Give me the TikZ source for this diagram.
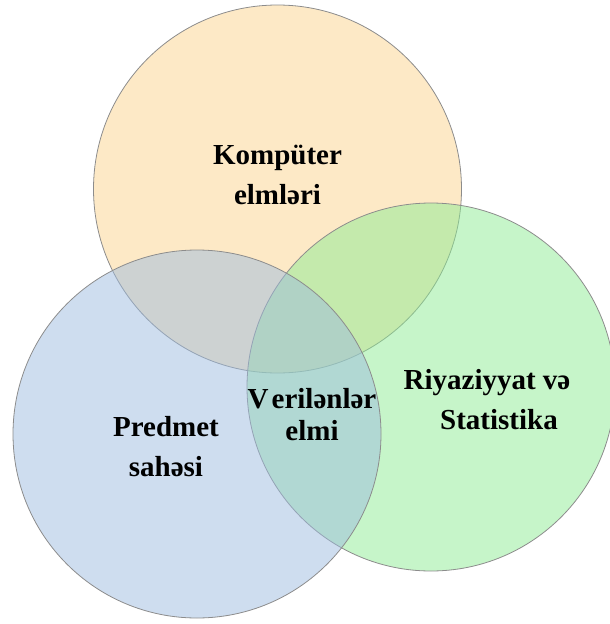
\documentclass[tikz,border=0pt]{standalone}
\usepackage{fontspec}
\setmainfont{Liberation Serif}
\definecolor{orangeC}{HTML}{FBD38D}
\definecolor{blueC}{HTML}{9DBBDF}
\definecolor{greenC}{HTML}{8DEB93}
\definecolor{edgeC}{HTML}{8C8C8C}
\tikzset{
  venn/.style={circle, draw=edgeC, line width=0.8pt, fill opacity=0.5, minimum size=368pt, inner sep=0pt},
  lbl/.style={font=\fontsize{29}{40}\selectfont\bfseries, align=center, text=black, inner sep=0pt}
}
\begin{document}
\begin{tikzpicture}[x=1pt,y=-1pt]
\useasboundingbox (0,0) rectangle (610,624);
\node[venn, fill=orangeC] (comp) at (277.5,189) {};
\node[venn, fill=greenC] (math) at (431,387) {};
\node[venn, fill=blueC] (dom) at (197,434) {};
\node[lbl] (tcomp) at (277.5,175) {Kompüter\\elmləri};
\node[lbl] (tmath) at (487,400) {Riyaziyyat və\\\hspace*{24pt}Statistika};
\node[lbl] (tdom) at (166,447) {Predmet\\sahəsi};
\node[lbl, font=\fontsize{29}{32}\selectfont\bfseries] (tds) at (312,415) {V\hspace{3pt}erilənlər\\elmi};
\end{tikzpicture}
\end{document}
